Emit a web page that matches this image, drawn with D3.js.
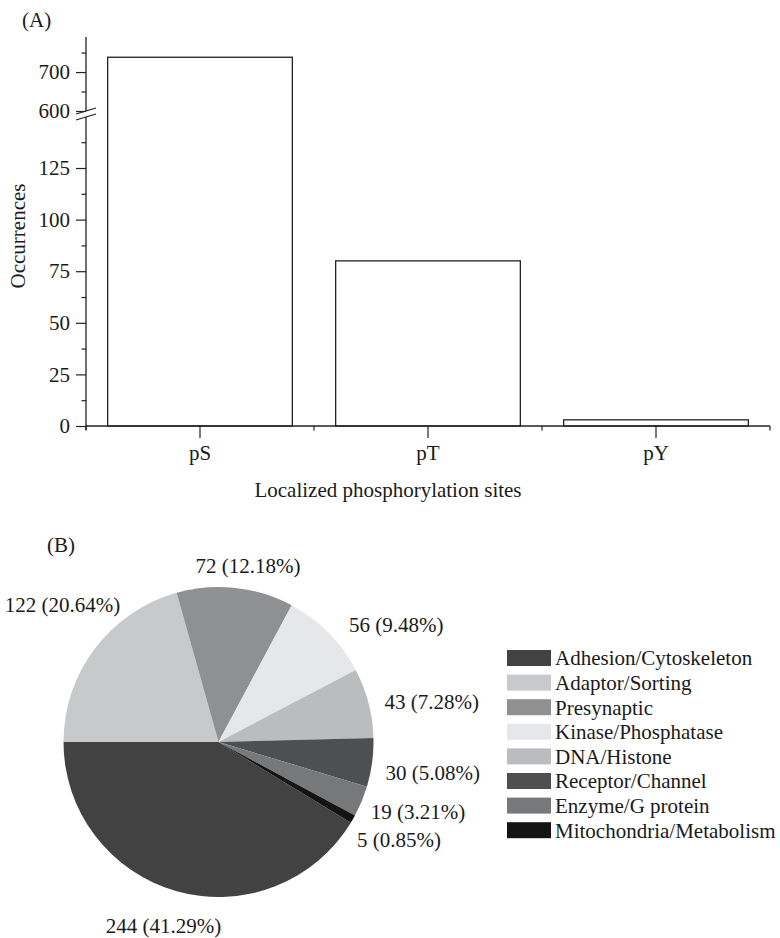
<!DOCTYPE html>
<html>
<head>
<meta charset="utf-8">
<script src="https://cdn.jsdelivr.net/npm/d3@7"></script>
<style>
  html, body { margin: 0; padding: 0; background: #fff; }
  svg { display: block; }
  text { font-family: "Liberation Serif", "Times New Roman", serif; fill: #1a1a1a; }
</style>
</head>
<body>
<svg id="chart" width="780" height="938"></svg>
<script>
// ---------- Data ----------
const siteCategories = ["pS", "pT", "pY"];
const siteCounts = [738, 80, 3];
const lowerMajorTicks = [0, 25, 50, 75, 100, 125];
const lowerMinorTicks = [12.5, 37.5, 62.5, 87.5, 112.5, 137.5];
const upperMajorTicks = [600, 700];
const upperMinorTicks = [650, 750];

const classNames = ["Adhesion/Cytoskeleton", "Adaptor/Sorting", "Presynaptic", "Kinase/Phosphatase",
                    "DNA/Histone", "Receptor/Channel", "Enzyme/G protein", "Mitochondria/Metabolism"];
const classCounts = [244, 122, 72, 56, 43, 30, 19, 5];
const classColors = ["#424242", "#c8c9cb", "#8f9092", "#e6e7e9", "#bbbcbe", "#4e4f51", "#77787a", "#141414"];
// label nudges (layout only)
const labelNudge = [[7, 8], [27, -27], [5, 5], [22, 12], [1, 6], [-3, 7], [-3, 0], [-5, 7]];

const svg = d3.select("#chart");
const FS = 21;

// ---------- Panel A: broken-axis bar chart ----------
const x0 = 86, x1 = 770, yBase = 426;
const yLow = d3.scaleLinear().domain([0, 149]).range([yBase, yBase - 149 * 2.064]);
const yHigh = d3.scaleLinear().domain([600, 790]).range([111, 37]);
const yVal = v => v <= 149 ? yLow(v) : yHigh(v);

const xBand = d3.scaleBand().domain(siteCategories).range([x0, x1]).padding(0);
const xBar = d3.scaleBand().domain(siteCategories).range([x0, x1]).paddingInner(0.19).paddingOuter(0.095);

const gA = svg.append("g");

gA.selectAll("rect.bar").data(siteCategories).join("rect")
  .attr("class", "bar")
  .attr("x", d => xBar(d))
  .attr("width", xBar.bandwidth())
  .attr("y", (d, i) => yVal(siteCounts[i]))
  .attr("height", (d, i) => yBase - yVal(siteCounts[i]))
  .attr("fill", "#fff")
  .attr("stroke", "#222")
  .attr("stroke-width", 1.3);

function styleAxis(g) {
  g.selectAll("path.domain").remove();
  g.selectAll("line").attr("stroke", "#222").attr("stroke-width", 1.2);
  g.selectAll("text").attr("font-size", FS).attr("fill", "#1a1a1a")
    .attr("font-family", '"Liberation Serif", "Times New Roman", serif');
}

// lower y axis
gA.append("g").attr("transform", `translate(${x0},0)`)
  .call(d3.axisLeft(yLow).tickValues(lowerMajorTicks).tickSize(10).tickPadding(6).tickFormat(d3.format("d")))
  .call(styleAxis);
gA.append("g").attr("transform", `translate(${x0},0)`)
  .call(d3.axisLeft(yLow).tickValues(lowerMinorTicks).tickSize(4.5).tickFormat(""))
  .call(styleAxis);
// upper y axis
gA.append("g").attr("transform", `translate(${x0},0)`)
  .call(d3.axisLeft(yHigh).tickValues(upperMajorTicks).tickSize(10).tickPadding(6).tickFormat(d3.format("d")))
  .call(styleAxis);
gA.append("g").attr("transform", `translate(${x0},0)`)
  .call(d3.axisLeft(yHigh).tickValues(upperMinorTicks).tickSize(4.5).tickFormat(""))
  .call(styleAxis);

// y axis lines (broken)
gA.append("line").attr("x1", x0).attr("x2", x0).attr("y1", yHigh.range()[1]).attr("y2", 111)
  .attr("stroke", "#222").attr("stroke-width", 1.3);
gA.append("line").attr("x1", x0).attr("x2", x0).attr("y1", 117).attr("y2", yBase + 4)
  .attr("stroke", "#222").attr("stroke-width", 1.3);
// break marks
[[0], [6]].forEach(([o]) => {
  gA.append("line").attr("x1", x0 - 10).attr("y1", 114 + o).attr("x2", x0 + 10).attr("y2", 108 + o)
    .attr("stroke", "#222").attr("stroke-width", 1.3);
});

// x axis
gA.append("line").attr("x1", x0).attr("x2", x1).attr("y1", yBase).attr("y2", yBase)
  .attr("stroke", "#222").attr("stroke-width", 1.3);
gA.append("g").attr("transform", `translate(0,${yBase})`)
  .call(d3.axisBottom(xBand).tickSize(12).tickPadding(7))
  .call(styleAxis);
// category boundary ticks
const bounds = siteCategories.map(c => xBand(c)).concat([xBand.range()[1]]);
gA.selectAll("line.bnd").data(bounds).join("line").attr("class", "bnd")
  .attr("x1", d => d).attr("x2", d => d).attr("y1", yBase).attr("y2", yBase + 4.5)
  .attr("stroke", "#222").attr("stroke-width", 1.2);

gA.append("text").attr("x", 388).attr("y", 497).attr("text-anchor", "middle").attr("font-size", FS)
  .text("Localized phosphorylation sites");
gA.append("text").attr("transform", "translate(25,236) rotate(-90)").attr("text-anchor", "middle")
  .attr("font-size", FS).text("Occurrences");
gA.append("text").attr("x", 22).attr("y", 27).attr("font-size", FS).text("(A)");

// ---------- Panel B: pie ----------
const total = d3.sum(classCounts);
const cx = 218.5, cy = 742, R = 155, labelR = 172;
const startA = -Math.PI / 2 - 2 * Math.PI * classCounts[0] / total;
const pie = d3.pie().sort(null).value(d => d).startAngle(startA).endAngle(startA + 2 * Math.PI);
const arcs = pie(classCounts);
const arc = d3.arc().innerRadius(0).outerRadius(R);

const gB = svg.append("g").attr("transform", `translate(${cx},${cy})`);
gB.selectAll("path").data(arcs).join("path")
  .attr("d", arc)
  .attr("fill", (d, i) => classColors[i]);

const labels = gB.selectAll("text.lbl").data(arcs).join("text")
  .attr("class", "lbl")
  .attr("font-size", FS)
  .attr("text-anchor", "middle")
  .attr("dy", "0.33em")
  .text((d, i) => `${classCounts[i]} (${(classCounts[i] / total * 100).toFixed(2)}%)`);
labels.each(function (d, i) {
  const w = this.getComputedTextLength();
  const m = (d.startAngle + d.endAngle) / 2;
  const ax = Math.sin(m) * labelR, ay = -Math.cos(m) * labelR;
  const lx = ax + (w / 2) * Math.sin(m) + labelNudge[i][0];
  const ly = ay - (FS / 2) * Math.cos(m) + labelNudge[i][1];
  d3.select(this).attr("x", lx).attr("y", ly);
});

svg.append("text").attr("x", 47).attr("y", 552).attr("font-size", FS).text("(B)");

// legend
const lg = svg.append("g");
const legY0 = 658, legStep = 24.6;
classNames.forEach((name, i) => {
  const yy = legY0 + i * legStep;
  lg.append("rect").attr("x", 507).attr("y", yy - 8).attr("width", 44).attr("height", 16)
    .attr("fill", classColors[i]);
  lg.append("text").attr("x", 555).attr("y", yy).attr("dy", "0.35em").attr("font-size", FS).text(name);
});
</script>
</body>
</html>
